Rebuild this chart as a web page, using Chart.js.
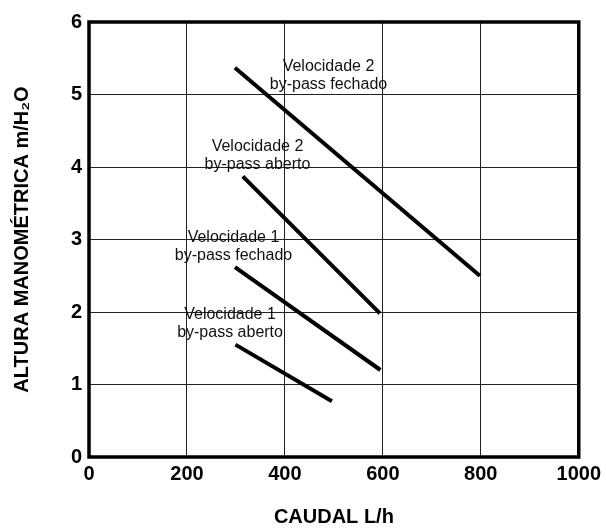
<!DOCTYPE html>
<html>
<head>
<meta charset="utf-8">
<script src="https://cdn.jsdelivr.net/npm/chart.js@4"></script>
<style>
  html, body { margin: 0; padding: 0; background: #fff; }
  #wrap { width: 606px; height: 529px; }
</style>
</head>
<body>
<div id="wrap"><canvas id="chart"></canvas></div>
<script>
// values (caudal L/h, altura m)
const v2FechadoX = [298, 798];
const v2FechadoY = [5.37, 2.50];
const v2AbertoX = [314, 594];
const v2AbertoY = [3.87, 1.98];
const v1FechadoX = [298, 595];
const v1FechadoY = [2.62, 1.20];
const v1AbertoX = [299, 496];
const v1AbertoY = [1.55, 0.77];

const seriesNames = [
  "Velocidade 2 by-pass fechado",
  "Velocidade 2 by-pass aberto",
  "Velocidade 1 by-pass fechado",
  "Velocidade 1 by-pass aberto"
];

// curve labels, anchored in data units
const labelLines = [
  ["Velocidade 2", "by-pass fechado"],
  ["Velocidade 2", "by-pass aberto"],
  ["Velocidade 1", "by-pass fechado"],
  ["Velocidade 1", "by-pass aberto"]
];
const labelX = [489, 344, 295, 288];
const labelY = [5.39, 4.28, 3.02, 1.97];

const xTitle = "CAUDAL L/h";
const yTitle = "ALTURA MANOMÉTRICA m/H₂O";

const FONT = "'Liberation Sans', Arial, sans-serif";

function pts(xs, ys) {
  return xs.map((x, i) => ({ x: x, y: ys[i] }));
}

const allX = [v2FechadoX, v2AbertoX, v1FechadoX, v1AbertoX];
const allY = [v2FechadoY, v2AbertoY, v1FechadoY, v1AbertoY];

const datasets = seriesNames.map((name, i) => ({
  label: name,
  data: pts(allX[i], allY[i]),
  borderColor: "#000",
  borderWidth: 4,
  pointRadius: 0,
  fill: false
}));

const curveLabels = {
  id: "curveLabels",
  afterDatasetsDraw(chart) {
    const ctx = chart.ctx;
    const xs = chart.scales.x, ys = chart.scales.y;
    ctx.save();
    ctx.font = "16px " + FONT;
    ctx.fillStyle = "#111";
    ctx.textAlign = "center";
    ctx.textBaseline = "middle";
    labelLines.forEach((lines, i) => {
      const px = xs.getPixelForValue(labelX[i]);
      const py = ys.getPixelForValue(labelY[i]);
      lines.forEach((t, j) => ctx.fillText(t, px, py + j * 18));
    });
    ctx.restore();
  }
};

const frame = {
  id: "frame",
  afterDraw(chart) {
    const a = chart.chartArea;
    const ctx = chart.ctx;
    ctx.save();
    ctx.strokeStyle = "#000";
    ctx.lineWidth = 3.5;
    ctx.strokeRect(a.left, a.top, a.right - a.left, a.bottom - a.top);
    ctx.restore();
  }
};

const ctx = document.getElementById("chart").getContext("2d");
const chart = new Chart(ctx, {
  type: "line",
  data: { datasets: datasets },
  options: {
    responsive: true,
    maintainAspectRatio: false,
    animation: false,
    layout: { padding: { top: 22, right: 26, left: 0, bottom: 0 } },
    plugins: {
      legend: { display: false },
      tooltip: { enabled: false }
    },
    scales: {
      x: {
        type: "linear",
        min: 0,
        max: 1000,
        afterFit: (s) => { s.height = 72; },
        ticks: {
          stepSize: 200,
          padding: 5,
          color: "#000",
          callback: (v) => String(v),
          font: { family: FONT, size: 20, weight: "bold" }
        },
        grid: { color: "#222", lineWidth: 1, drawTicks: false },
        border: { display: false },
        title: {
          display: true,
          text: xTitle,
          color: "#000",
          padding: { top: 0, bottom: 0 },
          font: { family: FONT, size: 20, weight: "bold" }
        }
      },
      y: {
        min: 0,
        max: 6,
        afterFit: (s) => { s.width = 89; },
        ticks: {
          stepSize: 1,
          padding: 7,
          color: "#000",
          font: { family: FONT, size: 20, weight: "bold" }
        },
        grid: { color: "#222", lineWidth: 1, drawTicks: false },
        border: { display: false },
        title: {
          display: true,
          text: yTitle,
          color: "#000",
          padding: { top: 10, bottom: 0 },
          font: { family: FONT, size: 20, weight: "bold" }
        }
      }
    }
  },
  plugins: [curveLabels, frame]
});
</script>
</body>
</html>
